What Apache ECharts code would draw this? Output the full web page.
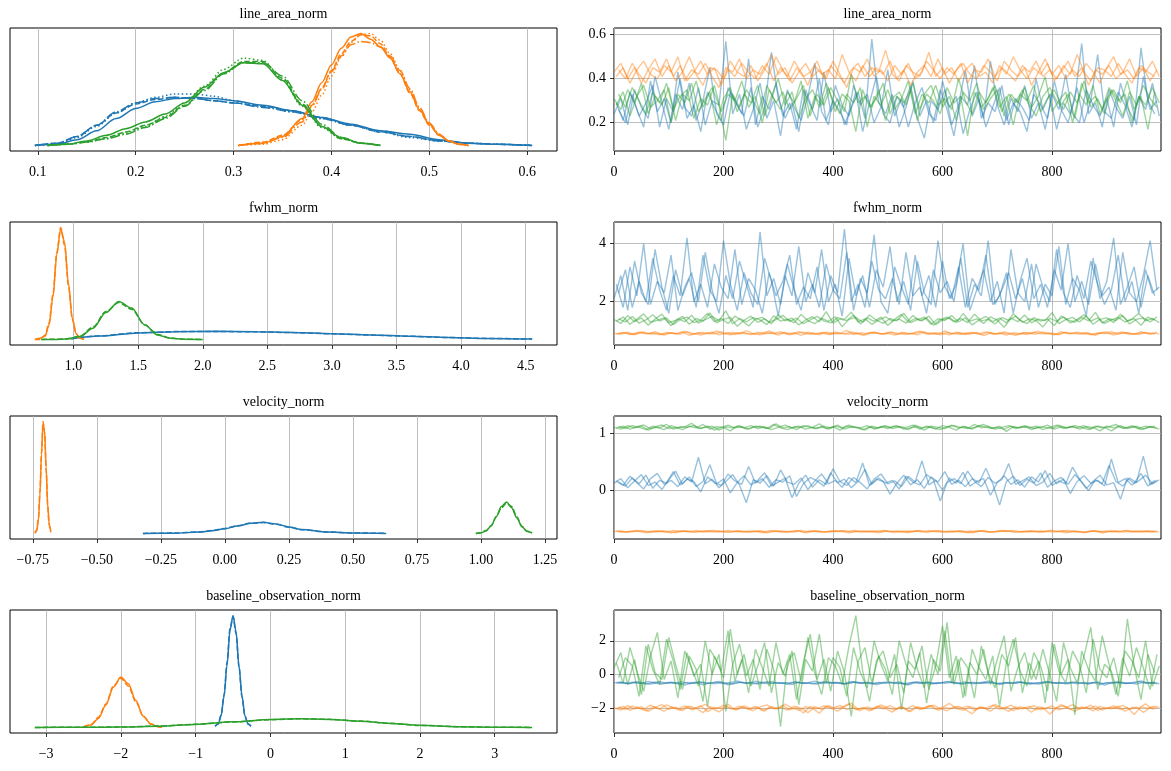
<!DOCTYPE html>
<html>
<head>
<meta charset="utf-8">
<script src="https://cdn.jsdelivr.net/npm/echarts@6/dist/echarts.min.js"></script>
<style>
html, body { margin: 0; background: #fff; }
#main { width: 1171px; height: 771px; }
</style>
</head>
<body>
<div id="main"></div>
<script>
// ---- line_area_norm: KDE grids + per-chain densities (relative height) ----
var areaBlueX = [0.097, 0.12, 0.14, 0.16, 0.18, 0.20, 0.22, 0.24, 0.26, 0.28, 0.30, 0.33, 0.36, 0.39, 0.42, 0.45, 0.48, 0.51, 0.54, 0.57, 0.605];
var areaBlueKde = [
	[0.00, 0.01, 0.05, 0.13, 0.24, 0.33, 0.39, 0.42, 0.43, 0.42, 0.40, 0.36, 0.31, 0.25, 0.19, 0.13, 0.10, 0.05, 0.02, 0.01, 0.00],
	[0.00, 0.02, 0.08, 0.18, 0.29, 0.37, 0.41, 0.43, 0.42, 0.40, 0.38, 0.35, 0.31, 0.25, 0.18, 0.12, 0.08, 0.04, 0.02, 0.01, 0.00],
	[0.00, 0.01, 0.07, 0.17, 0.29, 0.38, 0.43, 0.46, 0.46, 0.44, 0.40, 0.35, 0.30, 0.24, 0.18, 0.12, 0.07, 0.04, 0.02, 0.01, 0.00],
	[0.00, 0.02, 0.08, 0.18, 0.30, 0.38, 0.42, 0.43, 0.42, 0.40, 0.38, 0.34, 0.30, 0.24, 0.18, 0.13, 0.08, 0.04, 0.02, 0.01, 0.00]
];
var areaOrangeX = [0.305, 0.33, 0.35, 0.37, 0.38, 0.39, 0.40, 0.41, 0.42, 0.43, 0.44, 0.45, 0.46, 0.47, 0.48, 0.49, 0.50, 0.51, 0.52, 0.53, 0.54];
var areaOrangeKde = [
	[0.00, 0.02, 0.08, 0.24, 0.39, 0.56, 0.72, 0.87, 0.97, 1.00, 0.95, 0.88, 0.78, 0.64, 0.48, 0.32, 0.19, 0.09, 0.04, 0.01, 0.00],
	[0.00, 0.03, 0.09, 0.23, 0.36, 0.51, 0.67, 0.82, 0.93, 0.99, 0.98, 0.91, 0.79, 0.64, 0.47, 0.31, 0.18, 0.09, 0.04, 0.01, 0.00],
	[0.00, 0.01, 0.05, 0.18, 0.30, 0.45, 0.62, 0.79, 0.92, 0.99, 1.00, 0.94, 0.82, 0.67, 0.50, 0.33, 0.19, 0.10, 0.04, 0.01, 0.00],
	[0.00, 0.02, 0.07, 0.21, 0.35, 0.50, 0.66, 0.80, 0.90, 0.93, 0.92, 0.88, 0.80, 0.67, 0.51, 0.34, 0.20, 0.10, 0.04, 0.01, 0.00]
];
var areaGreenX = [0.11, 0.13, 0.15, 0.17, 0.19, 0.21, 0.23, 0.25, 0.27, 0.29, 0.31, 0.33, 0.35, 0.37, 0.39, 0.41, 0.43, 0.45];
var areaGreenKde = [
	[0.00, 0.01, 0.04, 0.09, 0.15, 0.21, 0.28, 0.38, 0.52, 0.65, 0.74, 0.73, 0.58, 0.36, 0.17, 0.07, 0.02, 0.00],
	[0.00, 0.01, 0.03, 0.07, 0.12, 0.18, 0.25, 0.36, 0.50, 0.65, 0.75, 0.75, 0.60, 0.37, 0.17, 0.06, 0.02, 0.00],
	[0.00, 0.01, 0.03, 0.06, 0.11, 0.17, 0.26, 0.38, 0.53, 0.68, 0.78, 0.76, 0.59, 0.35, 0.16, 0.06, 0.02, 0.00],
	[0.00, 0.01, 0.03, 0.06, 0.10, 0.16, 0.24, 0.35, 0.49, 0.64, 0.74, 0.74, 0.62, 0.40, 0.19, 0.07, 0.02, 0.00]
];

// ---- fwhm_norm ----
var fwhmBlueX = [0.98, 1.2, 1.5, 1.8, 2.1, 2.4, 2.7, 3.0, 3.3, 3.6, 3.9, 4.2, 4.55];
var fwhmBlueKde = [
	[0.005, 0.030, 0.058, 0.069, 0.072, 0.069, 0.062, 0.051, 0.040, 0.029, 0.018, 0.009, 0.003],
	[0.006, 0.032, 0.060, 0.070, 0.071, 0.068, 0.061, 0.050, 0.039, 0.028, 0.017, 0.009, 0.003]
];
var fwhmOrangeX = [0.70, 0.74, 0.78, 0.81, 0.84, 0.87, 0.90, 0.93, 0.96, 0.99, 1.02, 1.05, 1.08];
var fwhmOrangeKde = [
	[0.00, 0.01, 0.03, 0.13, 0.38, 0.76, 0.99, 0.87, 0.50, 0.19, 0.05, 0.01, 0.00],
	[0.00, 0.00, 0.04, 0.15, 0.40, 0.78, 1.00, 0.84, 0.48, 0.18, 0.05, 0.01, 0.00]
];
var fwhmGreenX = [0.75, 0.85, 0.95, 1.05, 1.15, 1.25, 1.35, 1.45, 1.55, 1.65, 1.75, 1.85, 2.00];
var fwhmGreenKde = [
	[0.000, 0.000, 0.004, 0.025, 0.10, 0.24, 0.34, 0.28, 0.13, 0.040, 0.010, 0.002, 0.000],
	[0.000, 0.001, 0.006, 0.030, 0.11, 0.25, 0.33, 0.27, 0.13, 0.045, 0.012, 0.002, 0.000]
];

// ---- velocity_norm ----
var velBlueX = [-0.32, -0.2, -0.1, -0.05, 0.0, 0.05, 0.1, 0.15, 0.2, 0.25, 0.3, 0.4, 0.5, 0.63];
var velBlueKde = [
	[0.0, 0.002, 0.012, 0.024, 0.042, 0.066, 0.090, 0.099, 0.085, 0.058, 0.034, 0.012, 0.004, 0.0],
	[0.0, 0.003, 0.013, 0.026, 0.045, 0.069, 0.091, 0.097, 0.082, 0.056, 0.033, 0.013, 0.004, 0.0]
];
var velOrangeX = [-0.742, -0.735, -0.728, -0.722, -0.716, -0.710, -0.704, -0.698, -0.692, -0.686, -0.680];
var velOrangeKde = [
	[0.00, 0.02, 0.12, 0.36, 0.71, 0.98, 0.92, 0.59, 0.26, 0.08, 0.02],
	[0.01, 0.03, 0.14, 0.38, 0.72, 1.00, 0.90, 0.57, 0.25, 0.07, 0.01]
];
var velGreenX = [0.98, 1.00, 1.02, 1.04, 1.06, 1.08, 1.10, 1.12, 1.14, 1.16, 1.18, 1.20];
var velGreenKde = [
	[0.00, 0.005, 0.022, 0.067, 0.15, 0.24, 0.28, 0.23, 0.14, 0.060, 0.02, 0.004],
	[0.00, 0.006, 0.025, 0.070, 0.15, 0.23, 0.27, 0.24, 0.15, 0.065, 0.02, 0.004]
];

// ---- baseline_observation_norm ----
var baseBlueX = [-0.74, -0.70, -0.66, -0.62, -0.58, -0.54, -0.50, -0.46, -0.42, -0.38, -0.34, -0.30, -0.26];
var baseBlueKde = [
	[0.01, 0.03, 0.10, 0.28, 0.56, 0.87, 1.00, 0.86, 0.55, 0.28, 0.10, 0.03, 0.01],
	[0.01, 0.03, 0.11, 0.29, 0.58, 0.89, 0.99, 0.84, 0.54, 0.27, 0.10, 0.03, 0.01]
];
var baseOrangeX = [-2.50, -2.40, -2.30, -2.20, -2.10, -2.00, -1.90, -1.80, -1.70, -1.60, -1.50, -1.45];
var baseOrangeKde = [
	[0.004, 0.022, 0.08, 0.20, 0.36, 0.45, 0.39, 0.24, 0.10, 0.03, 0.006, 0.002],
	[0.005, 0.025, 0.09, 0.21, 0.37, 0.44, 0.37, 0.23, 0.10, 0.03, 0.007, 0.002]
];
var baseGreenX = [-3.15, -2.5, -2.0, -1.5, -1.0, -0.5, 0.0, 0.4, 0.8, 1.2, 1.6, 2.0, 2.5, 3.0, 3.5];
var baseGreenKde = [
	[0.000, 0.001, 0.003, 0.011, 0.027, 0.050, 0.071, 0.078, 0.071, 0.055, 0.036, 0.019, 0.007, 0.002, 0.000],
	[0.000, 0.001, 0.004, 0.012, 0.028, 0.049, 0.069, 0.077, 0.072, 0.057, 0.037, 0.018, 0.007, 0.002, 0.000]
];

// ---- trace values (thinned draws, three chains per component) ----
var areaBlueTrace = [
	[0.24,0.31,0.19,0.35,0.27,0.22,0.41,0.29,0.17,0.33,0.26,0.38,0.21,0.30,0.45,0.24,0.19,0.34,0.28,0.23,0.36,0.18,0.27,0.52,0.31,0.22,0.29,0.16,0.35,0.26,0.40,0.21,0.30,0.25,0.19,0.37,0.28,0.33,0.20,0.27,0.44,0.23,0.31,0.18,0.29,0.36,0.24,0.21,0.39,0.27,0.32,0.15,0.26,0.34,0.22,0.48,0.28,0.19,0.31,0.25,0.37,0.22,0.29,0.17,0.33,0.26,0.42,0.24,0.20,0.35,0.28,0.23,0.31,0.18,0.38,0.27,0.21,0.54,0.30,0.24],
	[0.29,0.21,0.34,0.26,0.18,0.39,0.25,0.31,0.20,0.43,0.27,0.23,0.36,0.19,0.30,0.28,0.57,0.24,0.33,0.17,0.26,0.38,0.22,0.30,0.14,0.35,0.27,0.21,0.32,0.47,0.25,0.19,0.37,0.28,0.23,0.34,0.16,0.29,0.41,0.24,0.20,0.32,0.27,0.37,0.22,0.13,0.30,0.26,0.35,0.19,0.28,0.44,0.23,0.31,0.18,0.27,0.36,0.21,0.29,0.25,0.16,0.33,0.28,0.22,0.39,0.26,0.20,0.31,0.56,0.24,0.29,0.18,0.35,0.27,0.22,0.32,0.19,0.41,0.26,0.30],
	[0.26,0.20,0.33,0.23,0.29,0.37,0.18,0.31,0.25,0.40,0.22,0.28,0.16,0.34,0.27,0.21,0.36,0.30,0.24,0.49,0.19,0.32,0.26,0.38,0.23,0.29,0.17,0.35,0.28,0.21,0.43,0.25,0.31,0.19,0.27,0.34,0.22,0.58,0.29,0.24,0.33,0.18,0.27,0.39,0.23,0.30,0.20,0.35,0.26,0.14,0.32,0.28,0.46,0.22,0.29,0.25,0.37,0.19,0.31,0.27,0.21,0.40,0.26,0.33,0.17,0.29,0.24,0.36,0.20,0.30,0.51,0.25,0.22,0.34,0.28,0.18,0.32,0.26,0.38,0.23]
];
var areaOrangeTrace = [
	[0.43,0.47,0.40,0.45,0.38,0.44,0.49,0.41,0.46,0.39,0.43,0.50,0.42,0.37,0.45,0.44,0.40,0.48,0.43,0.41,0.46,0.39,0.44,0.51,0.42,0.45,0.38,0.43,0.47,0.41,0.44,0.40,0.48,0.42,0.36,0.45,0.43,0.49,0.41,0.44,0.39,0.46,0.42,0.47,0.40,0.43,0.52,0.41,0.45,0.38,0.44,0.47,0.42,0.40,0.46,0.43,0.39,0.48,0.44,0.41,0.45,0.37,0.43,0.49,0.42,0.46,0.40,0.44,0.41,0.47,0.43,0.38,0.45,0.50,0.42,0.44,0.40,0.46,0.43,0.41],
	[0.41,0.45,0.38,0.44,0.48,0.42,0.40,0.46,0.43,0.50,0.39,0.44,0.42,0.47,0.41,0.36,0.45,0.43,0.49,0.40,0.44,0.42,0.47,0.39,0.45,0.41,0.48,0.43,0.37,0.46,0.42,0.44,0.40,0.51,0.43,0.39,0.46,0.41,0.45,0.42,0.48,0.40,0.44,0.37,0.43,0.46,0.41,0.49,0.42,0.45,0.39,0.44,0.47,0.41,0.43,0.38,0.46,0.42,0.50,0.44,0.40,0.45,0.42,0.47,0.39,0.43,0.48,0.41,0.45,0.37,0.44,0.42,0.46,0.40,0.43,0.49,0.41,0.45,0.39,0.44],
	[0.44,0.40,0.47,0.42,0.38,0.45,0.43,0.49,0.41,0.46,0.39,0.43,0.48,0.42,0.45,0.37,0.44,0.41,0.47,0.43,0.40,0.46,0.42,0.50,0.44,0.39,0.45,0.41,0.43,0.48,0.40,0.46,0.42,0.38,0.44,0.47,0.41,0.45,0.43,0.53,0.42,0.39,0.46,0.43,0.41,0.48,0.44,0.40,0.45,0.42,0.47,0.38,0.44,0.43,0.49,0.41,0.45,0.42,0.39,0.46,0.43,0.48,0.41,0.44,0.40,0.46,0.42,0.51,0.43,0.39,0.45,0.44,0.41,0.47,0.42,0.38,0.45,0.43,0.48,0.41]
];
var areaGreenTrace = [
	[0.31,0.26,0.35,0.29,0.38,0.24,0.32,0.28,0.36,0.21,0.33,0.30,0.39,0.27,0.34,0.19,0.31,0.36,0.25,0.33,0.29,0.37,0.23,0.32,0.40,0.28,0.34,0.22,0.31,0.35,0.27,0.38,0.30,0.24,0.33,0.29,0.36,0.18,0.32,0.28,0.35,0.26,0.31,0.39,0.24,0.33,0.29,0.37,0.27,0.32,0.21,0.34,0.30,0.38,0.26,0.31,0.35,0.23,0.33,0.29,0.36,0.27,0.32,0.41,0.25,0.30,0.34,0.20,0.33,0.28,0.37,0.24,0.31,0.35,0.29,0.39,0.26,0.32,0.17,0.34],
	[0.28,0.34,0.23,0.32,0.37,0.27,0.30,0.35,0.20,0.33,0.29,0.38,0.25,0.31,0.36,0.28,0.12,0.33,0.27,0.35,0.30,0.24,0.37,0.31,0.26,0.34,0.29,0.39,0.22,0.32,0.28,0.36,0.25,0.33,0.30,0.16,0.35,0.27,0.31,0.38,0.24,0.32,0.29,0.35,0.21,0.33,0.37,0.28,0.31,0.26,0.40,0.30,0.24,0.34,0.29,0.36,0.27,0.32,0.19,0.33,0.30,0.37,0.25,0.31,0.35,0.28,0.33,0.22,0.38,0.29,0.32,0.26,0.36,0.30,0.23,0.34,0.28,0.37,0.31,0.27],
	[0.33,0.27,0.36,0.30,0.24,0.34,0.29,0.38,0.26,0.32,0.35,0.22,0.31,0.28,0.37,0.25,0.33,0.30,0.39,0.27,0.32,0.20,0.35,0.29,0.34,0.26,0.31,0.37,0.23,0.33,0.28,0.36,0.30,0.25,0.42,0.29,0.32,0.27,0.35,0.21,0.31,0.34,0.28,0.38,0.26,0.33,0.30,0.24,0.36,0.29,0.32,0.14,0.34,0.27,0.31,0.37,0.25,0.33,0.29,0.35,0.28,0.23,0.32,0.36,0.30,0.26,0.34,0.29,0.39,0.27,0.31,0.24,0.35,0.30,0.33,0.20,0.32,0.28,0.36,0.29]
];
var fwhmBlueTrace = [
	[2.1,2.9,1.7,3.4,2.3,1.9,3.8,2.5,1.6,3.1,2.2,2.8,1.8,3.6,2.4,2.0,4.1,2.6,1.7,3.0,2.3,1.9,3.5,2.7,1.5,2.9,2.2,3.9,2.0,2.6,1.8,3.3,2.4,2.1,3.7,1.7,2.8,2.3,4.3,2.0,1.6,3.2,2.5,1.9,3.6,2.2,2.9,1.8,3.4,2.1,2.6,4.0,1.7,2.4,3.1,2.0,2.7,1.6,3.8,2.3,2.0,3.3,1.8,2.6,2.2,3.9,1.9,2.8,2.4,1.5,3.5,2.1,2.7,4.2,1.9,2.5,3.2,1.8,2.9,2.2],
	[2.6,1.8,3.2,2.2,4.0,1.9,2.7,2.3,3.6,1.7,2.5,3.0,2.0,3.7,2.4,1.6,2.9,2.1,3.4,2.6,1.8,4.4,2.2,2.8,1.9,3.3,2.4,1.7,3.0,2.3,3.8,2.0,2.6,1.5,3.5,2.2,2.9,1.8,3.1,2.5,3.9,2.0,2.7,1.7,3.4,2.3,1.9,4.1,2.5,2.1,3.2,1.8,2.8,2.4,3.6,1.9,2.2,3.0,1.6,2.7,3.5,2.1,2.6,1.8,3.1,2.4,4.0,2.0,2.7,1.9,3.3,2.2,2.5,1.7,3.7,2.3,2.0,2.9,4.1,2.4],
	[2.3,3.1,1.8,2.7,2.0,3.5,2.4,1.7,2.9,2.2,4.2,2.0,2.6,1.8,3.3,2.5,2.1,3.8,1.9,2.8,2.4,1.6,3.0,2.2,2.7,3.6,1.9,2.5,2.1,3.2,1.7,2.9,2.3,4.5,2.0,2.6,1.8,3.4,2.4,2.1,2.8,1.9,3.7,2.2,2.5,1.6,3.1,2.3,2.7,2.0,3.5,1.8,2.6,2.2,4.1,1.9,2.4,3.0,2.1,2.8,1.7,3.3,2.5,2.0,3.8,2.3,1.8,2.9,2.1,3.4,2.6,1.9,2.4,3.6,2.0,2.7,1.6,3.1,2.3,2.5]
];
var fwhmOrangeTrace = [
	[0.91,0.88,0.95,0.86,0.93,0.90,0.97,0.87,0.92,0.89,0.96,0.84,0.91,0.94,0.88,0.99,0.90,0.86,0.93,0.91,0.87,0.95,0.89,0.92,0.85,0.94,0.90,0.97,0.88,0.92,0.86,0.95,0.91,0.89,1.01,0.87,0.93,0.90,0.96,0.88,0.92,0.85,0.94,0.89,0.91,0.97,0.87,0.93,0.90,0.86,0.95,0.91,0.88,0.94,0.83,0.92,0.89,0.96,0.90,0.87,0.93,0.91,0.98,0.88,0.92,0.86,0.95,0.90,0.89,0.94,0.87,0.92,0.96,0.85,0.91,0.93,0.88,0.97,0.90,0.89],
	[0.89,0.94,0.87,0.92,0.96,0.88,0.91,0.85,0.93,0.90,0.98,0.87,0.92,0.89,0.95,0.86,0.91,0.94,0.88,1.00,0.90,0.86,0.93,0.91,0.97,0.88,0.92,0.84,0.95,0.89,0.93,0.87,0.96,0.90,0.88,0.92,0.85,0.94,0.91,0.89,0.96,0.87,0.93,0.90,0.86,0.95,0.91,0.88,0.99,0.89,0.92,0.87,0.94,0.90,0.96,0.88,0.91,0.85,0.93,0.90,0.87,0.95,0.89,0.92,0.86,0.97,0.90,0.93,0.88,0.91,0.84,0.94,0.89,0.92,0.96,0.87,0.90,0.93,0.88,0.95],
	[0.90,0.93,0.87,0.95,0.89,0.92,0.86,0.94,0.91,0.88,0.97,0.90,0.85,0.93,0.89,0.96,0.91,0.87,0.94,0.90,0.88,0.92,0.99,0.89,0.93,0.86,0.91,0.95,0.88,0.90,0.94,0.87,0.92,0.89,0.96,0.90,0.85,0.93,0.91,0.88,0.95,0.90,0.87,0.92,0.98,0.89,0.91,0.86,0.94,0.90,0.88,0.93,0.91,0.87,0.95,0.89,0.92,0.90,0.84,0.93,0.91,0.88,0.96,0.90,0.87,0.93,0.89,0.95,0.91,0.86,0.92,0.90,0.97,0.88,0.93,0.90,0.87,0.94,0.91,0.89]
];
var fwhmGreenTrace = [
	[1.38,1.25,1.52,1.31,1.44,1.19,1.40,1.57,1.28,1.35,1.49,1.22,1.42,1.33,1.61,1.27,1.39,1.46,1.15,1.36,1.50,1.29,1.41,1.24,1.55,1.34,1.43,1.20,1.37,1.48,1.30,1.66,1.26,1.40,1.35,1.53,1.23,1.44,1.32,1.47,1.18,1.39,1.56,1.29,1.42,1.34,1.50,1.21,1.37,1.45,1.28,1.59,1.33,1.41,1.25,1.48,1.36,1.12,1.43,1.31,1.54,1.27,1.40,1.35,1.62,1.24,1.38,1.46,1.30,1.51,1.22,1.39,1.44,1.28,1.57,1.34,1.41,1.19,1.47,1.36],
	[1.33,1.47,1.22,1.40,1.58,1.29,1.36,1.44,1.17,1.41,1.31,1.53,1.26,1.38,1.49,1.34,1.68,1.23,1.42,1.30,1.45,1.37,1.21,1.51,1.33,1.40,1.27,1.56,1.35,1.24,1.43,1.32,1.48,1.14,1.39,1.46,1.29,1.54,1.36,1.25,1.42,1.34,1.60,1.28,1.38,1.47,1.22,1.41,1.35,1.52,1.30,1.44,1.20,1.37,1.49,1.31,1.43,1.27,1.58,1.36,1.24,1.45,1.33,1.40,1.18,1.50,1.37,1.29,1.46,1.34,1.63,1.26,1.41,1.35,1.52,1.23,1.39,1.44,1.30,1.48],
	[1.41,1.30,1.49,1.26,1.37,1.55,1.33,1.44,1.21,1.39,1.47,1.28,1.36,1.60,1.31,1.42,1.25,1.50,1.35,1.16,1.40,1.46,1.29,1.38,1.53,1.32,1.43,1.24,1.37,1.49,1.34,1.27,1.45,1.39,1.64,1.30,1.41,1.22,1.36,1.48,1.33,1.40,1.26,1.52,1.35,1.44,1.19,1.38,1.47,1.31,1.42,1.28,1.57,1.34,1.39,1.23,1.45,1.36,1.50,1.29,1.41,1.35,1.13,1.43,1.32,1.48,1.27,1.39,1.55,1.33,1.44,1.25,1.37,1.46,1.30,1.40,1.59,1.34,1.42,1.28]
];
var velBlueTrace = [
	[0.13,0.21,0.05,0.17,0.28,0.09,0.15,0.02,0.19,0.34,0.11,0.24,0.07,0.16,0.45,0.12,0.20,-0.04,0.14,0.26,0.10,0.18,0.31,0.08,0.15,0.22,-0.12,0.13,0.27,0.06,0.19,0.11,0.38,0.16,0.09,0.23,0.14,0.03,0.20,0.29,0.12,0.17,0.07,0.25,0.15,0.52,0.10,0.18,0.01,0.22,0.13,0.32,0.08,0.16,0.21,-0.08,0.14,0.26,0.11,0.19,0.06,0.24,0.15,0.35,0.09,0.17,0.12,0.41,0.20,0.04,0.16,0.27,0.10,0.14,-0.15,0.22,0.13,0.30,0.08,0.18],
	[0.17,0.09,0.25,0.14,0.03,0.21,0.30,0.11,0.18,0.07,0.24,0.15,0.58,0.12,0.20,0.05,0.16,0.28,0.10,-0.21,0.19,0.13,0.26,0.08,0.36,0.15,0.11,0.22,0.02,0.17,0.29,0.12,0.18,0.06,0.23,0.14,0.48,0.09,0.20,0.16,-0.06,0.13,0.27,0.10,0.19,0.04,0.24,0.15,0.33,0.11,0.18,0.07,0.21,0.14,0.39,0.12,-0.25,0.16,0.25,0.09,0.20,0.13,0.31,0.06,0.17,0.23,0.11,0.28,0.15,0.00,0.19,0.12,0.44,0.16,0.08,0.22,0.14,0.60,0.10,0.18],
	[0.15,0.08,0.22,0.12,0.27,0.04,0.18,0.13,0.33,0.10,0.20,0.16,-0.02,0.24,0.14,0.09,0.29,0.17,0.11,0.42,0.13,0.21,0.06,0.19,0.15,0.26,-0.10,0.12,0.23,0.17,0.08,0.31,0.14,0.20,0.05,0.16,0.37,0.11,0.22,0.13,0.18,0.03,0.25,0.15,0.10,0.28,0.19,-0.18,0.14,0.21,0.12,0.34,0.16,0.07,0.23,0.13,0.19,0.47,0.11,0.17,0.24,0.09,0.15,0.30,0.12,0.20,-0.05,0.16,0.26,0.13,0.18,0.08,0.55,0.14,0.21,0.10,0.17,0.27,0.12,0.19]
];
var velOrangeTrace = [
	[-0.71,-0.70,-0.72,-0.71,-0.69,-0.71,-0.72,-0.70,-0.71,-0.73,-0.70,-0.71,-0.69,-0.72,-0.71,-0.70,-0.71,-0.72,-0.70,-0.71,-0.72,-0.70,-0.71,-0.69,-0.71,-0.72,-0.71,-0.70,-0.73,-0.71,-0.70,-0.72,-0.71,-0.70,-0.71,-0.69,-0.72,-0.71,-0.70,-0.71,-0.70,-0.72,-0.71,-0.73,-0.70,-0.71,-0.69,-0.71,-0.72,-0.70,-0.71,-0.72,-0.70,-0.71,-0.69,-0.72,-0.71,-0.70,-0.71,-0.72,-0.71,-0.70,-0.72,-0.71,-0.69,-0.71,-0.73,-0.70,-0.71,-0.72,-0.70,-0.71,-0.70,-0.72,-0.71,-0.69,-0.71,-0.72,-0.70,-0.71],
	[-0.70,-0.72,-0.71,-0.69,-0.71,-0.72,-0.70,-0.71,-0.73,-0.70,-0.71,-0.72,-0.71,-0.70,-0.69,-0.71,-0.72,-0.71,-0.70,-0.72,-0.71,-0.70,-0.73,-0.71,-0.70,-0.71,-0.72,-0.69,-0.71,-0.70,-0.72,-0.71,-0.70,-0.71,-0.73,-0.70,-0.71,-0.72,-0.71,-0.69,-0.71,-0.70,-0.72,-0.71,-0.70,-0.72,-0.71,-0.69,-0.71,-0.72,-0.70,-0.71,-0.73,-0.70,-0.71,-0.72,-0.70,-0.71,-0.69,-0.71,-0.72,-0.71,-0.70,-0.71,-0.72,-0.70,-0.69,-0.71,-0.72,-0.71,-0.70,-0.73,-0.71,-0.70,-0.72,-0.71,-0.70,-0.71,-0.72,-0.70],
	[-0.71,-0.72,-0.70,-0.71,-0.73,-0.70,-0.71,-0.72,-0.69,-0.71,-0.70,-0.72,-0.71,-0.70,-0.72,-0.71,-0.69,-0.71,-0.72,-0.70,-0.71,-0.73,-0.71,-0.70,-0.72,-0.71,-0.69,-0.72,-0.70,-0.71,-0.72,-0.70,-0.71,-0.69,-0.72,-0.71,-0.70,-0.71,-0.73,-0.70,-0.72,-0.71,-0.70,-0.71,-0.69,-0.72,-0.70,-0.71,-0.72,-0.71,-0.70,-0.73,-0.71,-0.70,-0.72,-0.71,-0.69,-0.70,-0.72,-0.71,-0.70,-0.71,-0.72,-0.69,-0.71,-0.70,-0.72,-0.71,-0.73,-0.70,-0.71,-0.72,-0.70,-0.71,-0.69,-0.72,-0.71,-0.70,-0.71,-0.72]
];
var velGreenTrace = [
	[1.10,1.07,1.13,1.09,1.12,1.05,1.11,1.14,1.08,1.10,1.06,1.12,1.09,1.15,1.07,1.11,1.10,1.04,1.12,1.09,1.13,1.08,1.11,1.06,1.10,1.14,1.09,1.12,1.07,1.10,1.16,1.08,1.11,1.05,1.12,1.10,1.09,1.13,1.07,1.11,1.08,1.12,1.10,1.06,1.14,1.09,1.11,1.07,1.13,1.10,1.05,1.12,1.08,1.11,1.15,1.09,1.10,1.07,1.12,1.09,1.13,1.06,1.11,1.10,1.08,1.14,1.09,1.12,1.07,1.11,1.10,1.04,1.12,1.09,1.13,1.08,1.11,1.06,1.10,1.12],
	[1.09,1.12,1.07,1.11,1.14,1.08,1.10,1.06,1.13,1.09,1.11,1.17,1.08,1.10,1.12,1.05,1.11,1.09,1.13,1.07,1.10,1.12,1.08,1.15,1.09,1.06,1.11,1.10,1.13,1.08,1.11,1.07,1.12,1.09,1.14,1.10,1.06,1.11,1.08,1.12,1.10,1.13,1.07,1.09,1.11,1.05,1.12,1.10,1.08,1.14,1.09,1.11,1.07,1.13,1.10,1.08,1.12,1.03,1.11,1.09,1.12,1.08,1.10,1.14,1.07,1.11,1.09,1.13,1.10,1.06,1.12,1.09,1.11,1.15,1.08,1.10,1.12,1.07,1.11,1.09],
	[1.11,1.08,1.13,1.10,1.06,1.12,1.09,1.15,1.07,1.11,1.10,1.13,1.08,1.12,1.05,1.10,1.14,1.09,1.11,1.07,1.12,1.10,1.08,1.16,1.09,1.11,1.06,1.13,1.10,1.08,1.12,1.09,1.14,1.07,1.11,1.10,1.05,1.12,1.09,1.13,1.08,1.11,1.10,1.14,1.07,1.12,1.09,1.06,1.11,1.13,1.10,1.08,1.15,1.09,1.12,1.07,1.10,1.13,1.08,1.11,1.09,1.12,1.06,1.10,1.14,1.08,1.11,1.09,1.13,1.07,1.12,1.10,1.04,1.11,1.09,1.13,1.08,1.12,1.10,1.07]
];
var baseBlueTrace = [
	[-0.50,-0.45,-0.56,-0.48,-0.53,-0.41,-0.51,-0.58,-0.47,-0.52,-0.44,-0.55,-0.49,-0.62,-0.50,-0.46,-0.54,-0.48,-0.39,-0.52,-0.47,-0.57,-0.50,-0.43,-0.53,-0.49,-0.60,-0.46,-0.51,-0.55,-0.48,-0.42,-0.52,-0.50,-0.58,-0.45,-0.51,-0.47,-0.54,-0.49,-0.44,-0.53,-0.50,-0.63,-0.47,-0.52,-0.46,-0.55,-0.49,-0.41,-0.51,-0.57,-0.48,-0.53,-0.45,-0.50,-0.56,-0.47,-0.52,-0.43,-0.54,-0.49,-0.59,-0.46,-0.51,-0.48,-0.55,-0.44,-0.50,-0.53,-0.47,-0.61,-0.49,-0.52,-0.45,-0.54,-0.50,-0.38,-0.51,-0.48],
	[-0.52,-0.47,-0.55,-0.43,-0.50,-0.58,-0.48,-0.53,-0.46,-0.51,-0.64,-0.49,-0.45,-0.54,-0.50,-0.42,-0.52,-0.57,-0.47,-0.51,-0.55,-0.48,-0.44,-0.53,-0.50,-0.59,-0.46,-0.52,-0.49,-0.40,-0.54,-0.50,-0.47,-0.56,-0.51,-0.45,-0.53,-0.48,-0.61,-0.50,-0.46,-0.52,-0.55,-0.49,-0.43,-0.51,-0.57,-0.48,-0.53,-0.47,-0.50,-0.44,-0.56,-0.50,-0.52,-0.46,-0.60,-0.49,-0.53,-0.45,-0.51,-0.56,-0.48,-0.42,-0.52,-0.49,-0.55,-0.47,-0.50,-0.58,-0.46,-0.53,-0.49,-0.44,-0.52,-0.50,-0.57,-0.47,-0.51,-0.54],
	[-0.49,-0.54,-0.46,-0.51,-0.57,-0.48,-0.43,-0.52,-0.50,-0.59,-0.47,-0.53,-0.45,-0.50,-0.55,-0.48,-0.62,-0.51,-0.46,-0.53,-0.40,-0.50,-0.56,-0.47,-0.52,-0.49,-0.44,-0.54,-0.50,-0.58,-0.46,-0.51,-0.48,-0.55,-0.42,-0.52,-0.49,-0.57,-0.47,-0.53,-0.50,-0.45,-0.60,-0.48,-0.52,-0.46,-0.54,-0.50,-0.43,-0.51,-0.56,-0.49,-0.47,-0.53,-0.39,-0.50,-0.55,-0.48,-0.52,-0.46,-0.58,-0.49,-0.51,-0.44,-0.53,-0.50,-0.47,-0.56,-0.48,-0.52,-0.45,-0.63,-0.50,-0.47,-0.54,-0.49,-0.42,-0.52,-0.48,-0.55]
];
var baseOrangeTrace = [
	[-1.98,-2.12,-1.85,-2.05,-1.91,-2.20,-1.96,-1.79,-2.08,-1.94,-2.15,-1.88,-2.01,-2.27,-1.93,-2.04,-1.82,-1.99,-2.11,-1.87,-2.03,-1.95,-2.18,-1.90,-2.06,-1.76,-1.99,-2.13,-1.92,-2.02,-2.31,-1.89,-2.00,-1.84,-2.09,-1.97,-2.16,-1.93,-2.05,-1.81,-1.98,-2.10,-1.88,-2.22,-1.95,-2.03,-1.86,-2.07,-1.94,-1.72,-2.01,-2.14,-1.91,-2.04,-1.97,-2.19,-1.89,-2.00,-1.83,-2.08,-1.96,-2.25,-1.92,-2.02,-1.87,-2.11,-1.99,-1.80,-2.06,-1.94,-2.17,-1.90,-2.03,-1.85,-2.09,-1.97,-2.38,-1.93,-2.01,-1.88],
	[-2.02,-1.90,-2.14,-1.95,-2.07,-1.83,-2.00,-2.19,-1.92,-2.05,-1.87,-2.11,-1.97,-1.78,-2.03,-2.23,-1.94,-2.06,-1.89,-2.01,-2.16,-1.93,-1.81,-2.04,-1.96,-2.12,-1.88,-2.00,-2.28,-1.91,-2.08,-1.86,-2.02,-1.95,-1.74,-2.10,-1.98,-2.17,-1.90,-2.04,-1.85,-2.06,-1.97,-2.21,-1.92,-2.01,-1.84,-2.13,-1.96,-2.03,-1.89,-2.09,-2.34,-1.94,-2.00,-1.82,-2.07,-1.95,-2.15,-1.91,-2.02,-1.86,-2.10,-1.97,-2.05,-1.79,-1.99,-2.20,-1.93,-2.04,-1.88,-2.12,-1.96,-2.01,-1.84,-2.08,-1.94,-2.26,-1.99,-1.90],
	[-1.95,-2.08,-1.88,-2.02,-2.17,-1.92,-2.05,-1.81,-1.99,-2.13,-1.90,-2.04,-1.86,-2.21,-1.96,-2.01,-1.77,-2.10,-1.93,-2.06,-1.89,-2.15,-1.98,-2.03,-1.84,-2.11,-1.95,-2.29,-1.91,-2.04,-1.87,-2.00,-2.18,-1.93,-1.70,-2.07,-1.97,-2.12,-1.89,-2.02,-2.24,-1.94,-2.05,-1.85,-2.09,-1.98,-1.82,-2.03,-2.16,-1.92,-2.00,-1.88,-2.13,-1.95,-2.07,-1.78,-2.01,-2.20,-1.93,-2.05,-1.90,-2.11,-1.96,-2.36,-1.99,-1.86,-2.08,-1.94,-2.02,-1.83,-2.14,-1.97,-2.04,-1.89,-2.19,-1.95,-2.00,-1.75,-2.06,-1.92]
];
var baseGreenTrace = [
	[0.4,1.3,-0.6,0.9,-1.2,1.8,0.1,-0.3,2.2,0.6,-0.9,1.1,0.3,-1.6,1.5,0.8,-0.2,2.7,0.0,1.2,-0.7,0.5,1.9,-1.1,0.7,-0.1,1.4,-1.8,0.9,0.2,2.4,-0.5,1.0,0.4,-1.3,1.6,0.1,-0.8,2.0,0.6,-0.4,1.2,-2.1,0.8,0.3,1.7,-0.9,0.5,2.9,-0.2,1.1,-1.4,0.7,0.0,1.5,-0.6,0.9,2.3,-1.0,0.4,1.3,-0.3,0.8,-1.7,1.9,0.2,-0.5,1.4,0.6,-1.1,2.1,0.3,-0.2,1.0,-0.8,3.3,0.5,-1.5,1.2,0.1],
	[0.7,-0.5,1.6,0.2,-1.0,1.1,2.5,-0.3,0.8,-1.4,1.4,0.4,-0.7,2.0,0.0,1.2,-2.2,0.6,1.8,-0.1,0.9,-0.9,1.5,0.3,-3.1,0.7,1.3,-0.4,2.2,0.1,-1.2,1.0,0.5,-0.6,1.7,3.5,0.2,-1.6,0.8,1.4,-0.2,0.6,-1.1,1.9,0.3,-0.8,1.2,0.0,2.6,-0.5,0.9,-1.3,1.5,0.4,-0.3,1.1,-1.9,0.7,2.1,0.2,-0.7,1.3,0.5,-1.0,1.8,0.0,0.9,-2.4,1.4,0.3,-0.4,2.3,0.6,-1.2,1.0,-0.1,1.6,0.4,-0.9,1.2],
	[-0.2,1.0,0.5,-1.3,1.7,0.3,-0.6,2.1,0.8,-0.9,1.3,-0.1,0.6,-1.9,1.1,0.2,2.6,-0.4,0.9,-1.1,1.5,0.4,-0.7,1.9,0.0,1.2,-1.5,0.7,2.4,-0.3,0.9,-1.0,1.4,0.1,-2.5,0.8,1.6,-0.5,1.1,0.3,-1.2,2.0,0.6,-0.2,1.3,-1.7,0.9,0.2,3.1,-0.6,1.0,0.4,-1.4,1.7,0.1,-0.8,1.2,0.5,2.2,-1.1,0.7,-0.3,1.5,0.0,-1.6,1.9,0.4,-0.5,1.1,2.8,-0.9,0.6,0.2,-1.3,1.4,0.8,-0.2,2.0,-0.7,0.5]
];

// ---- tick labels ----
var areaTicks = [0.1, 0.2, 0.3, 0.4, 0.5, 0.6];
var fwhmTicks = [1.0, 1.5, 2.0, 2.5, 3.0, 3.5, 4.0, 4.5];
var velTicks = [-0.75, -0.5, -0.25, 0, 0.25, 0.5, 0.75, 1.0, 1.25];
var baseTicks = [-3, -2, -1, 0, 1, 2, 3];
var areaTraceTicks = [0.2, 0.4, 0.6];
var fwhmTraceTicks = [2, 4];
var velTraceTicks = [0, 1];
var baseTraceTicks = [-2, 0, 2];
var drawTicks = [0, 200, 400, 600, 800];
var draws = 1000;

var colors = ['#1f77b4', '#ff7f0e', '#2ca02c'];
var chainDash = ['solid', [5.5, 2.4], [1.5, 2.5], [9.6, 2.4, 1.5, 2.4]];
var font = 'Liberation Serif';

var panels = [
	{ name: 'line_area_norm', kde: [[areaBlueX, areaBlueKde], [areaOrangeX, areaOrangeKde], [areaGreenX, areaGreenKde]],
	  trace: [areaBlueTrace, areaOrangeTrace, areaGreenTrace], ticks: areaTicks, digits: 1, traceTicks: areaTraceTicks, traceDigits: 1 },
	{ name: 'fwhm_norm', kde: [[fwhmBlueX, fwhmBlueKde], [fwhmOrangeX, fwhmOrangeKde], [fwhmGreenX, fwhmGreenKde]],
	  trace: [fwhmBlueTrace, fwhmOrangeTrace, fwhmGreenTrace], ticks: fwhmTicks, digits: 1, traceTicks: fwhmTraceTicks, traceDigits: 0 },
	{ name: 'velocity_norm', kde: [[velBlueX, velBlueKde], [velOrangeX, velOrangeKde], [velGreenX, velGreenKde]],
	  trace: [velBlueTrace, velOrangeTrace, velGreenTrace], ticks: velTicks, digits: 2, traceTicks: velTraceTicks, traceDigits: 0 },
	{ name: 'baseline_observation_norm', kde: [[baseBlueX, baseBlueKde], [baseOrangeX, baseOrangeKde], [baseGreenX, baseGreenKde]],
	  trace: [baseBlueTrace, baseOrangeTrace, baseGreenTrace], ticks: baseTicks, digits: 0, traceTicks: baseTraceTicks, traceDigits: 0 }
];

var rowTop = [28, 222, 416, 610];
var plotH = 123, plotW = 547;
var colLeft = [10, 614];

function fmt(digits) {
	return function (v) { return v.toFixed(digits).replace('-', '\u2212'); };
}

function axis(gi, min, max, ticks, digits, isX) {
	return {
		gridIndex: gi, type: 'value', min: min, max: max,
		axisLine: { show: false, onZero: false },
		axisTick: { show: true, customValues: ticks, length: 4, lineStyle: { color: '#000', width: 0.8 } },
		axisLabel: { customValues: ticks, formatter: fmt(digits), fontFamily: font, fontSize: 14, color: '#000', margin: isX ? 14 : 8 },
		splitLine: { show: true, lineStyle: { color: '#b0b0b0', width: 0.8 } }
	};
}

var grid = [], xAxis = [], yAxis = [], series = [], title = [];

panels.forEach(function (p, r) {
	var lo = Infinity, hi = -Infinity, peak = 0;
	p.kde.forEach(function (c) {
		lo = Math.min(lo, c[0][0]);
		hi = Math.max(hi, c[0][c[0].length - 1]);
		c[1].forEach(function (d) { peak = Math.max(peak, Math.max.apply(null, d)); });
	});
	var pad = (hi - lo) * 0.05;
	var gl = 2 * r, gr = 2 * r + 1;

	colLeft.forEach(function (x) {
		grid.push({ left: x, top: rowTop[r], width: plotW, height: plotH, show: true, borderColor: '#000', borderWidth: 1, containLabel: false, outerBoundsMode: 'none' });
		title.push({ text: p.name, left: x + plotW / 2, top: rowTop[r] - 21, textAlign: 'center', padding: 0,
			textStyle: { fontFamily: font, fontSize: 14, fontWeight: 'normal', color: '#000' } });
	});

	// density panel
	xAxis.push(axis(gl, lo - pad, hi + pad, p.ticks, p.digits, true));
	yAxis.push({ gridIndex: gl, type: 'value', min: -0.05 * peak, max: 1.05 * peak, show: false });
	// trace panel
	xAxis.push(axis(gr, 0, draws - 1, drawTicks, 0, true));
	yAxis.push(axis(gr, lo - pad, hi + pad, p.traceTicks, p.traceDigits, false));

	p.trace.forEach(function (chains, ci) {
		chains.forEach(function (vals, k) {
			var step = draws / vals.length;
			series.push({
				type: 'line', xAxisIndex: gr, yAxisIndex: gr, symbol: 'none', silent: true,
				data: vals.map(function (v, i) { return [i * step + k * step / chains.length, v]; }),
				lineStyle: { color: colors[ci], width: 1.4, opacity: 0.45 }
			});
		});
	});

	p.kde.forEach(function (c, ci) {
		c[1].forEach(function (d, k) {
			series.push({
				type: 'line', xAxisIndex: gl, yAxisIndex: gl, symbol: 'none', silent: true,
				smooth: 0.3, smoothMonotone: 'x',
				data: c[0].map(function (x, i) { return [x, d[i]]; }),
				lineStyle: { color: colors[ci], width: 1.5, type: chainDash[k] }
			});
		});
	});
});

var chart = echarts.init(document.getElementById('main'));
chart.setOption({
	animation: false,
	backgroundColor: '#fff',
	title: title,
	grid: grid,
	xAxis: xAxis,
	yAxis: yAxis,
	series: series
});
</script>
</body>
</html>
